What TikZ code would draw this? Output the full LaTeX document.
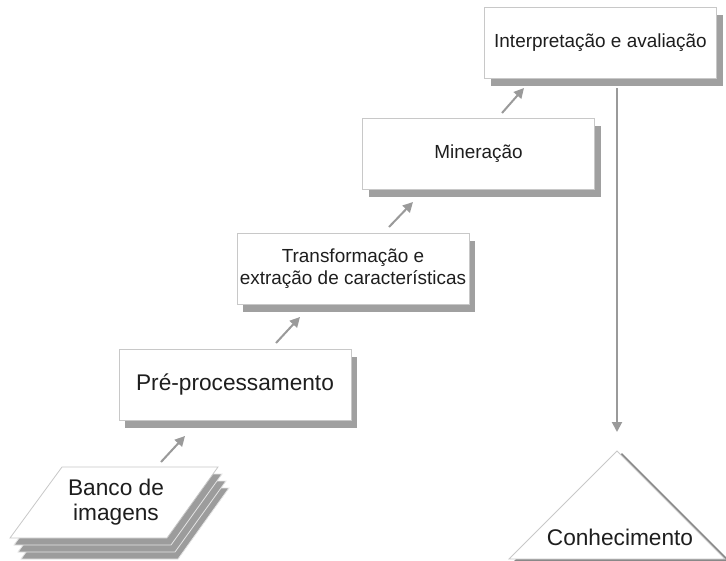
\documentclass[tikz,border=0pt]{standalone}
\usepackage{fontspec}
\setmainfont{Liberation Sans}
\usetikzlibrary{arrows.meta,shadows,calc}
\definecolor{boxline}{HTML}{C8C8C8}
\definecolor{shadowgray}{HTML}{A0A0A0}
\definecolor{arrowgray}{HTML}{9A9A9A}
\definecolor{txt}{HTML}{1E1E1E}
\definecolor{layergray}{HTML}{9C9C9C}
\definecolor{layerline}{HTML}{E4E4E4}
\definecolor{trishadow}{HTML}{888888}
\begin{document}
\begin{tikzpicture}[x=0.75pt,y=-0.75pt,
  stepbox/.style={draw=boxline, line width=0.6pt, fill=white,
    minimum width=174pt, minimum height=53.25pt, inner sep=0pt, outer sep=0pt,
    text=txt, align=center,
    drop shadow={shadow xshift=4.5pt, shadow yshift=-6pt, fill=shadowgray, opacity=1}},
  big/.style={font=\fontsize{17}{19}\selectfont},
  small/.style={font=\fontsize{14.2}{17}\selectfont},
  arr/.style={draw=arrowgray, line width=1.5pt, -{Triangle[length=7.5pt,width=7.5pt]}},
  facestyle/.style={fill=white, draw=boxline, line width=0.6pt},
  layerstyle/.style={fill=layergray, draw=layerline, line width=0.6pt},
]
\fill[white] (0,0) rectangle (726,561);
\useasboundingbox (0,0) rectangle (726,561);

% image bank (stacked sheets)
\foreach \dx/\dy in {11/21, 8/14, 4/7}{
  \filldraw[layerstyle, shift={(\dx,\dy)}] (62,467) -- (218,467) -- (167,538) -- (10,538) -- cycle;
}
\filldraw[facestyle] (62,467) -- (218,467) -- (167,538) -- (10,538) -- cycle;
\node[big, text=txt, align=center] (bank) at (116,502) {Banco de\\imagens};

% process steps
\node[stepbox, big]   (pre)    at (235,384.5) {Pré-processamento};
\node[stepbox, small] (trans)  at (353,268.5) {Transformação e\\extração de características};
\node[stepbox, small] (mine)   at (478.5,153.5) {Mineração};
\node[stepbox, small] (interp) at (600.5,42.5) {Interpretação e avaliação};

% knowledge triangle
\fill[trishadow] (622,453) -- (730,561) -- (514,561) -- cycle;
\filldraw[facestyle] (617,451) -- (725,559) -- (509,559) -- cycle;
\node[big, text=txt] (know) at (620,537) {Conhecimento};

% connectors
\coordinate (a1s) at (161,462); \coordinate (a1e) at (185,436);
\coordinate (a2s) at (276,343); \coordinate (a2e) at (300,317);
\coordinate (a3s) at (389,227); \coordinate (a3e) at (413,202);
\coordinate (a4s) at (502,113); \coordinate (a4e) at (524,88);
\coordinate (kt) at (617,432);
\draw[arr] (a1s) -- (a1e);
\draw[arr] (a2s) -- (a2e);
\draw[arr] (a3s) -- (a3e);
\draw[arr] (a4s) -- (a4e);
\draw[arr, shorten <=7.5pt] (interp.south -| kt) -- (kt);
\end{tikzpicture}
\end{document}
